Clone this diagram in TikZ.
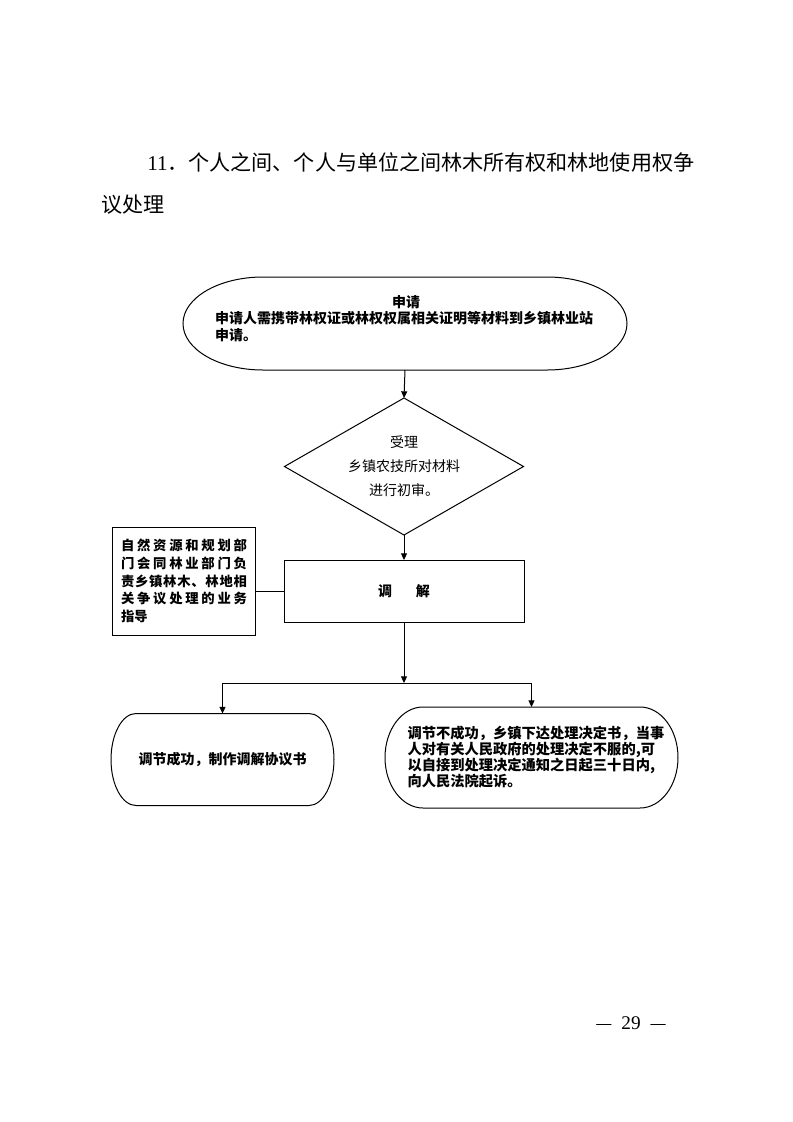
\documentclass[tikz,border=0pt]{standalone}
\usepackage{fontspec}
\setmainfont{Liberation Serif}
\newfontfamily\cjk{Noto Sans CJK SC}
\usetikzlibrary{arrows.meta,calc}
\def\spr#1{\sprA#1\relax}
\def\sprA#1#2{#1\ifx\relax#2\else\hfil\expandafter\sprA\expandafter#2\fi}
\newcommand\stad[3]{%
  \draw[line width=0.75pt] ([xshift=#2]#1.north west) -- ([xshift=-#2]#1.north east)
    arc[start angle=90,end angle=-90,x radius=#2,y radius=#3]
    -- ([xshift=#2]#1.south west)
    arc[start angle=270,end angle=90,x radius=#2,y radius=#3] -- cycle;}
\newcommand\pgdash{\scalebox{0.78}[1]{—}}
\tikzset{
  box/.style={inner sep=0pt,outer sep=0pt,line width=0.75pt},
  conn/.style={line width=0.75pt},
  arr/.style={line width=0.75pt,-{Triangle[length=5pt,width=4.5pt]}},
  fb/.style={font=\cjk\bfseries\fontsize{10.5pt}{12.4pt}\selectfont},
}
\begin{document}
\begin{tikzpicture}[x=0.75pt,y=-0.75pt]
\useasboundingbox (0,0) rectangle (793,1122);
% title
\node[anchor=west,inner sep=0pt,font=\cjk\fontsize{15.8pt}{18pt}\selectfont] (t1) at (147,162) {{\rmfamily 11}．个人之间、个人与单位之间林木所有权和林地使用权争};
\node[anchor=west,inner sep=0pt,font=\cjk\fontsize{15.8pt}{18pt}\selectfont] (t2) at (101,205) {议处理};
% top stadium
\node[box,minimum width=333pt,minimum height=69.75pt] (top) at (405,323.5) {};
\stad{top}{60pt}{34.875pt}
\node[fb,align=left,text width=286.5pt,inner sep=0pt] (toptxt) at (406,318.5)
  {\makebox[286.5pt]{申请}\\申请人需携带林权证或林权权属相关证明等材料到乡镇林业站\\申请。};
% diamond
\node[box,minimum width=179.25pt,minimum height=102.75pt,align=center,
  font=\cjk\fontsize{10.5pt}{18pt}\selectfont] (dia) at (404,466.5)
  {受理\\乡镇农技所对材料\\进行初审。};
\draw[line width=0.75pt] (dia.north) -- (dia.east) -- (dia.south) -- (dia.west) -- cycle;
% rectangle
\node[box,draw,minimum width=180pt,minimum height=46.5pt,fb] (rect) at (404,591) {调\hspace{18pt}解};
% left box
\node[box,draw,minimum width=107.25pt,minimum height=81pt,align=left,text width=94.5pt,
  font=\cjk\bfseries\fontsize{10pt}{13.3pt}\selectfont] (lbox) at (184,581)
  {\makebox[94.5pt][s]{\spr{自然资源和规划部}}\\
   \makebox[94.5pt][s]{\spr{门会同林业部门负}}\\
   \makebox[94.5pt][s]{\spr{责乡镇林木、林地相}}\\
   \makebox[94.5pt][s]{\spr{关争议处理的业务}}\\
   指导};
% bottom stadiums
\node[box,minimum width=167.25pt,minimum height=69pt,fb] (ls) at (222.5,759.5) {调节成功，制作调解协议书};
\stad{ls}{18.75pt}{34.5pt}
\node[box,minimum width=219.75pt,minimum height=75.75pt,align=left,text width=186pt,
  font=\cjk\bfseries\fontsize{10.7pt}{12pt}\selectfont] (rs) at (531.5,757.5)
  {调节不成功，乡镇下达处理决定书，当事\\人对有关人民政府的处理决定不服的,可\\以自接到处理决定通知之日起三十日内,\\向人民法院起诉。};
\stad{rs}{28.5pt}{37.875pt}
% connectors
\coordinate (split) at (404,683);
\draw[arr] (top.south) -- (dia.north);
\draw[arr] (dia.south) -- (rect.north);
\draw[conn] (rect.west) -- (rect.west -| lbox.east);
\draw[arr] (rect.south) -- (split);
\draw[conn] (ls.north |- split) -- (rs.north |- split);
\draw[arr] (ls.north |- split) -- (ls.north);
\draw[arr] (rs.north |- split) -- (rs.north);
% page number
\node[inner sep=0pt,font=\fontsize{14.5pt}{17pt}\selectfont] (pg) at (631,1023) {\pgdash\hspace{7.5pt}29\hspace{7.5pt}\pgdash};
\end{tikzpicture}
\end{document}
